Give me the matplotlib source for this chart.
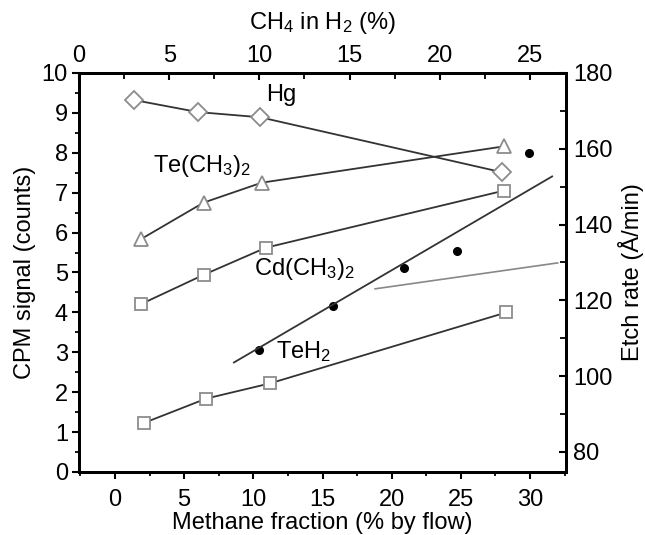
#!/usr/bin/env python
"""CPM signal and etch rate versus methane fraction."""

import numpy
import matplotlib
matplotlib.use("Agg")
import matplotlib.pyplot as plt
from matplotlib.ticker import MultipleLocator

plt.rcParams['font.family'] = ['Liberation Sans', 'DejaVu Sans']
plt.rcParams['mathtext.fontset'] = 'custom'
plt.rcParams['mathtext.rm'] = 'Liberation Sans'
plt.rcParams['mathtext.it'] = 'Liberation Sans'

# CPM signal (left axis) vs methane fraction (% by flow)
hg_x = [1.4, 6.0, 10.5, 28.0]
hg_y = [9.32, 9.02, 8.89, 7.51]

te_me_x = [1.9, 6.4, 10.6, 28.1]
te_me_y = [5.84, 6.75, 7.25, 8.16]

cd_me_x = [1.9, 6.4, 10.9, 28.1]
cd_me_y = [4.21, 4.94, 5.62, 7.05]

teh2_x = [2.1, 6.6, 11.2, 28.3]
teh2_y = [1.23, 1.84, 2.22, 4.0]

# etch rate (right axis)
etch_x = [10.4, 15.75, 20.9, 24.7, 29.9]
etch_y = [106.8, 118.5, 128.5, 133.1, 159.0]
etch_fit_x = [8.6, 31.6]
etch_fit_y = [103.6, 152.7]

# pointer line toward the etch rate axis
pointer_x = [18.8, 32.0]
pointer_y = [4.59, 5.24]

labels = ["Hg", "Te(CH$_3$)$_2$", "Cd(CH$_3$)$_2$", "TeH$_2$"]
label_x = [12.0, 6.3, 13.7, 13.6]
label_y = [9.44, 7.66, 5.09, 3.02]

FS = 17


def main():
    fig = plt.figure(figsize=(6.45, 5.35), dpi=100)
    ax = fig.add_axes([0.1225, 0.1178, 0.755, 0.7458])

    line_kw = dict(color="#333333", lw=1.3, mec="#8c8c8c", mfc="white", mew=1.3)
    ax.plot(hg_x, hg_y, marker="D", ms=9, **line_kw)
    ax.plot(te_me_x, te_me_y, marker="^", ms=9.5, **line_kw)
    ax.plot(cd_me_x, cd_me_y, marker="s", ms=9, **line_kw)
    ax.plot(teh2_x, teh2_y, marker="s", ms=9, **line_kw)
    ax.plot(pointer_x, pointer_y, color="#888888", lw=1.2)

    for text, x, y in zip(labels, label_x, label_y):
        ax.text(x, y, text, fontsize=FS, ha="center", va="center")

    ax.set_xlim(-2.6, 32.6)
    ax.set_ylim(0, 10)
    ax.xaxis.set_major_locator(MultipleLocator(5))
    ax.xaxis.set_minor_locator(MultipleLocator(2.5))
    ax.yaxis.set_major_locator(MultipleLocator(1))
    ax.yaxis.set_minor_locator(MultipleLocator(0.5))
    ax.tick_params(axis="both", which="major", direction="out", length=5, width=1.5,
                   labelsize=FS, pad=3)
    ax.tick_params(axis="x", which="major", pad=7)
    ax.tick_params(axis="both", which="minor", direction="out", length=3, width=1.3)
    ax.set_xlabel("Methane fraction (% by flow)", fontsize=FS, labelpad=1)
    ax.set_ylabel("CPM signal (counts)", fontsize=FS, labelpad=4)
    for spine in ax.spines.values():
        spine.set_linewidth(2)

    # etch rate on the right
    ax2 = ax.twinx()
    ax2.plot(etch_x, etch_y, "o", color="black", ms=5.5)
    ax2.plot(etch_fit_x, etch_fit_y, color="#333333", lw=1.3)
    ax2.set_ylim(74.7, 180)
    ax2.yaxis.set_major_locator(MultipleLocator(20))
    ax2.yaxis.set_minor_locator(MultipleLocator(10))
    ax2.tick_params(axis="y", which="major", direction="in", length=5, width=1.5,
                    labelsize=FS, pad=5)
    ax2.tick_params(axis="y", which="minor", direction="in", length=4, width=1.3)
    ax2.set_ylabel("Etch rate (Å/min)", fontsize=FS, labelpad=4)

    # CH4 in H2 on top
    ax3 = ax.twiny()
    ax3.set_xlim(0, 27)
    ax3.xaxis.set_major_locator(MultipleLocator(5))
    ax3.xaxis.set_minor_locator(MultipleLocator(2.5))
    ax3.tick_params(axis="x", which="major", direction="in", length=5, width=1.5,
                    labelsize=FS, pad=4)
    ax3.tick_params(axis="x", which="minor", direction="in", length=4, width=1.3)
    ax3.set_xlabel("CH$_4$ in H$_2$ (%)", fontsize=FS, labelpad=12)
    for spine in list(ax2.spines.values()) + list(ax3.spines.values()):
        spine.set_linewidth(2)

    fig.savefig("out.png", dpi=100)


if __name__ == "__main__":
    main()
